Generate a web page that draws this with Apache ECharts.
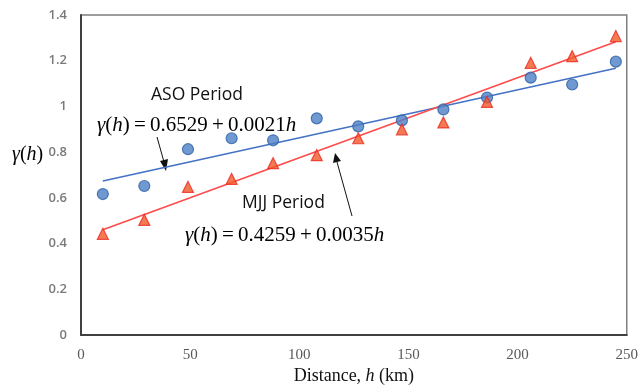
<!DOCTYPE html>
<html>
<head>
<meta charset="utf-8">
<script src="https://cdn.jsdelivr.net/npm/echarts@6/dist/echarts.min.js"></script>
<style>
  html, body { margin: 0; padding: 0; background: #fff; }
  #main { width: 641px; height: 390px; }
</style>
</head>
<body>
<div id="main"></div>
<script>
// distances (km)
var distances = [10, 29, 49, 69, 88, 108, 127, 147, 166, 186, 206, 225, 245];
// semivariogram values
var asoValues = [0.617, 0.652, 0.813, 0.861, 0.852, 0.948, 0.913, 0.939, 0.987, 1.039, 1.126, 1.096, 1.196];
var mjjValues = [0.443, 0.504, 0.648, 0.683, 0.752, 0.787, 0.861, 0.900, 0.930, 1.020, 1.191, 1.220, 1.308];
// fitted lines (end points)
var trendX = [10, 245];
var asoTrend = [0.674, 1.167];
var mjjTrend = [0.461, 1.283];

var xTicks = [0, 50, 100, 150, 200, 250];
var yTicks = [0, 0.2, 0.4, 0.6, 0.8, 1, 1.2, 1.4];

function pairs(xs, ys) {
    var out = [];
    for (var i = 0; i < xs.length; i++) out.push([xs[i], ys[i]]);
    return out;
}

var serif = 'Liberation Serif';
var eqRich = {
    i: { fontFamily: serif, fontStyle: 'italic', fontSize: 21, color: '#111' },
    n: { fontFamily: serif, fontSize: 21, color: '#111' }
};
var ts = '\u2009';

var chart = echarts.init(document.getElementById('main'));

var option = {
    animation: false,
    grid: {
        left: 81, top: 15, right: 8, bottom: 52,
        show: true, borderColor: '#7f7f7f', borderWidth: 1.5
    },
    xAxis: {
        type: 'value',
        min: xTicks[0], max: xTicks[xTicks.length - 1], interval: 50,
        axisLine: { show: true, lineStyle: { color: '#404040', width: 2 } },
        axisTick: { show: false },
        splitLine: { show: false },
        axisLabel: { fontFamily: serif, fontSize: 15, color: '#595959', margin: 12 },
        name: 'Distance, {i|h} (km)',
        nameLocation: 'middle',
        nameGap: 30,
        nameTextStyle: {
            fontFamily: serif, fontSize: 18, color: '#111',
            rich: { i: { fontFamily: serif, fontStyle: 'italic', fontSize: 18, color: '#111' } }
        }
    },
    yAxis: {
        type: 'value',
        min: yTicks[0], max: yTicks[yTicks.length - 1], interval: 0.2,
        axisLine: { show: true, lineStyle: { color: '#404040', width: 2 } },
        axisTick: { show: false },
        splitLine: { show: false },
        axisLabel: { fontFamily: 'Open Sans', fontSize: 13, fontWeight: 600, color: '#7a7a7a', margin: 14 }
    },
    series: [
        {
            name: 'ASO trend', type: 'line', data: pairs(trendX, asoTrend),
            symbol: 'none', lineStyle: { color: '#4472C4', width: 1.6 }, z: 2
        },
        {
            name: 'MJJ trend', type: 'line', data: pairs(trendX, mjjTrend),
            symbol: 'none', lineStyle: { color: '#FF4B4B', width: 1.6 }, z: 2
        },
        {
            name: 'ASO', type: 'scatter', data: pairs(distances, asoValues),
            symbol: 'circle', symbolSize: 11,
            itemStyle: { color: '#4C7FC6', borderColor: '#2E62A8', borderWidth: 1.2 }, z: 3
        },
        {
            name: 'MJJ', type: 'scatter', data: pairs(distances, mjjValues),
            symbol: 'triangle', symbolSize: 11,
            itemStyle: { color: '#F05A28', borderColor: '#EE2A22', borderWidth: 1.2 }, z: 3
        }
    ],
    graphic: [
        {
            type: 'text', x: 12, y: 155,
            style: {
                text: '{i|γ}{n|(}{i|h}{n|)}', verticalAlign: 'middle',
                rich: {
                    i: { fontFamily: serif, fontStyle: 'italic', fontSize: 20, color: '#111' },
                    n: { fontFamily: serif, fontSize: 20, color: '#111' }
                }
            }
        },
        {
            type: 'text', x: 151, y: 95,
            style: { text: 'ASO Period', font: '17.5px "Open Sans"', fill: '#111', verticalAlign: 'middle' }
        },
        {
            type: 'text', x: 97, y: 125,
            style: {
                text: '{i|γ}{n|(}{i|h}{n|)' + ts + '=' + ts + '0.6529' + ts + '+' + ts + '0.0021}{i|h}',
                verticalAlign: 'middle', rich: eqRich
            }
        },
        {
            type: 'text', x: 242, y: 203,
            style: { text: 'MJJ Period', font: '17.5px "Open Sans"', fill: '#111', verticalAlign: 'middle' }
        },
        {
            type: 'text', x: 185, y: 235,
            style: {
                text: '{i|γ}{n|(}{i|h}{n|)' + ts + '=' + ts + '0.4259' + ts + '+' + ts + '0.0035}{i|h}',
                verticalAlign: 'middle', rich: eqRich
            }
        },
        // arrow to ASO line
        {
            type: 'line', shape: { x1: 157, y1: 137, x2: 164, y2: 162 },
            style: { stroke: '#111', lineWidth: 1 }
        },
        {
            type: 'polygon', shape: { points: [[166, 171], [160, 161], [168, 159]] },
            style: { fill: '#111' }
        },
        // arrow to MJJ line
        {
            type: 'line', shape: { x1: 352, y1: 216, x2: 337, y2: 162 },
            style: { stroke: '#111', lineWidth: 1 }
        },
        {
            type: 'polygon', shape: { points: [[335, 153], [333, 163], [341, 161]] },
            style: { fill: '#111' }
        }
    ]
};

chart.setOption(option);
</script>
</body>
</html>
